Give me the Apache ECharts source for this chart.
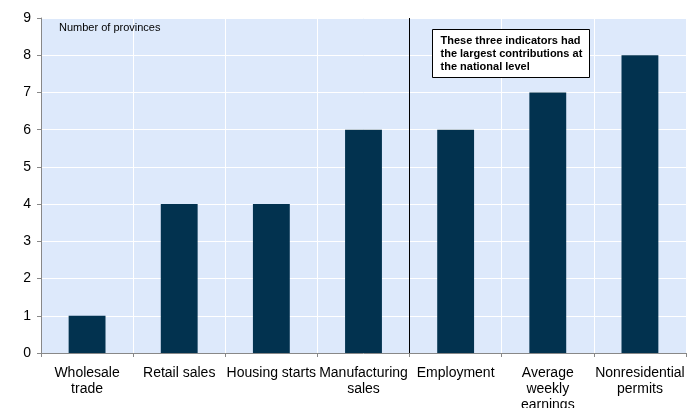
<!DOCTYPE html>
<html>
<head>
<meta charset="utf-8">
<script src="https://cdn.jsdelivr.net/npm/echarts@6/dist/echarts.min.js"></script>
<style>html,body{margin:0;padding:0;background:#fff}#c{width:696px;height:408px}</style>
</head>
<body>
<div id="c"></div>
<script>
const categories = ["Wholesale\ntrade", "Retail sales", "Housing starts", "Manufacturing\nsales", "Employment", "Average\nweekly\nearnings", "Nonresidential\npermits"];
const provinces = [1, 4, 4, 6, 6, 7, 8];
const yTicks = [0, 1, 2, 3, 4, 5, 6, 7, 8, 9];
const separatorAt = [4];
const unitLabel = "Number of provinces";
const noteText = "These three indicators had\nthe largest contributions at\nthe national level";

const chart = echarts.init(document.getElementById('c'), null, {renderer: 'canvas'});
const font = "Liberation Sans, Arial, sans-serif";
chart.setOption({
  animation: false,
  grid: {left: 41, right: 10, top: 18, bottom: 55, show: true, backgroundColor: '#DDE9FB', borderWidth: 0,
         containLabel: false, outerBoundsMode: 'none'},
  xAxis: [{
    type: 'category', data: categories, boundaryGap: true,
    axisLine: {lineStyle: {color: '#888', width: 1}},
    axisTick: {show: true, alignWithLabel: false, length: 4, lineStyle: {color: '#888'}},
    axisLabel: {interval: 0, color: '#000', fontFamily: font, fontSize: 14, lineHeight: 16, margin: 12},
    splitLine: {show: true, interval: 0, lineStyle: {color: '#fff', width: 1}}
  }, {
    type: 'value', min: 0, max: 7, show: false
  }],
  yAxis: {
    type: 'value', min: yTicks[0], max: yTicks[yTicks.length - 1], interval: 1,
    axisLine: {show: true, lineStyle: {color: '#888', width: 1}},
    axisTick: {show: true, length: 4, lineStyle: {color: '#888'}},
    axisLabel: {color: '#000', fontFamily: font, fontSize: 14, margin: 10},
    splitLine: {show: true, lineStyle: {color: '#fff', width: 1}}
  },
  series: [{
    type: 'bar', data: provinces, barWidth: '40%',
    itemStyle: {color: '#02324F'}
  }, {
    type: 'line', xAxisIndex: 1, data: [],
    markLine: {
      silent: true, symbol: 'none', label: {show: false},
      lineStyle: {color: '#000', width: 1, type: 'solid'},
      data: separatorAt.map(v => ({xAxis: v}))
    }
  }],
  graphic: [{
    type: 'text', left: 59, top: 22, z: 100,
    style: {text: unitLabel, font: '11px ' + font, fill: '#000'}
  }, {
    type: 'group', left: 432, top: 29, z: 100,
    children: [{
      type: 'rect', z: 100, shape: {x: 0, y: 0, width: 157, height: 48},
      style: {fill: '#fff', stroke: '#000', lineWidth: 1}
    }, {
      type: 'text', z: 101, x: 8, y: 5,
      style: {text: noteText, font: 'bold 11px ' + font, fill: '#000', lineHeight: 13}
    }]
  }]
});
</script>
</body>
</html>
